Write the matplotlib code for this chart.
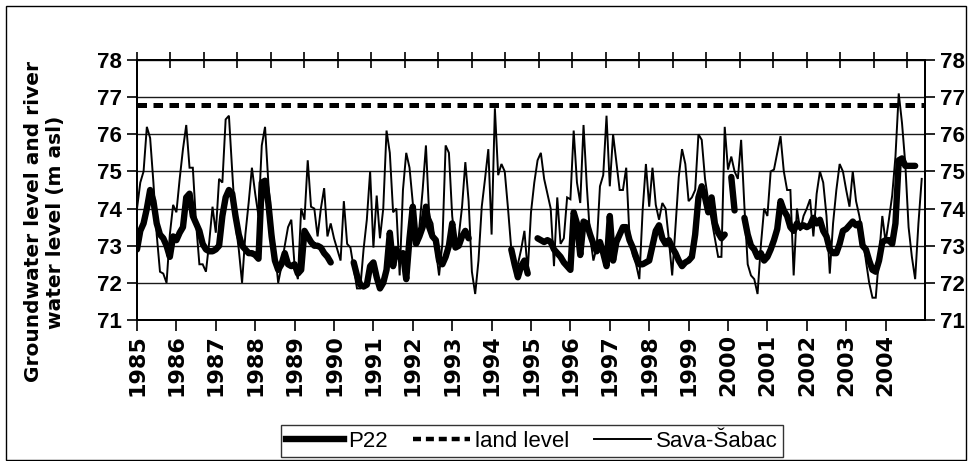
import numpy as np
import matplotlib
matplotlib.use('Agg')
import matplotlib.pyplot as plt
from matplotlib import font_manager
from matplotlib.patches import Rectangle
from matplotlib.lines import Line2D

# ---------------- data (monthly, Jan 1985 .. Dec 2004) ----------------
years = list(range(1985, 2005))
year_labels = [str(y) for y in years]
land_level = 76.8

sava = [
    74.0, 74.7, 75.0, 76.2, 75.9, 74.7, 73.3, 72.3, 72.25, 72.0, 73.3, 74.1,
    73.9, 74.8, 75.6, 76.25, 75.1, 75.1, 73.6, 72.5, 72.5, 72.3, 73.1, 74.05,
    73.35, 74.8, 74.7, 76.4, 76.5, 75.0, 73.6, 72.9, 72.0, 73.3, 74.15, 75.1,
    74.4, 73.8, 75.7, 76.2, 74.7, 73.6, 72.9, 72.0, 72.45, 73.0, 73.5, 73.7,
    72.45, 72.1, 74.0, 73.7, 75.3, 74.05, 74.0, 73.25, 74.0, 74.55, 73.25, 73.6,
    73.2, 72.9, 72.6, 74.2, 73.05, 72.95, 72.4, 71.85, 71.85, 72.9, 73.7, 75.0,
    72.95, 74.35, 73.2, 74.0, 76.1, 75.5, 73.9, 74.0, 72.2, 74.5, 75.5, 75.1,
    74.15, 73.25, 73.5, 74.5, 75.7, 73.8, 73.6, 72.9, 72.2, 73.05, 75.7, 75.5,
    73.8, 73.0, 73.25, 74.05, 75.25, 74.2, 72.3, 71.7, 72.6, 74.05, 74.8, 75.6,
    73.3, 76.7, 74.9, 75.2, 75.0, 74.0, 72.9, 72.35, 72.5, 72.9, 73.4, 72.3,
    73.9, 74.7, 75.3, 75.5, 74.8, 74.4, 74.0, 72.45, 74.3, 73.05, 73.2, 74.3,
    74.25, 76.1, 74.7, 74.15, 76.25, 74.6, 73.25, 72.6, 72.95, 74.6, 74.9, 76.5,
    74.6, 76.0, 75.25, 74.5, 74.5, 75.1, 73.25, 72.75, 72.5, 72.1, 73.95, 75.2,
    74.05, 75.1, 74.1, 73.7, 74.15, 74.0, 73.15, 72.2, 73.5, 74.85, 75.6, 75.2,
    74.2, 74.3, 74.5, 76.0, 75.85, 74.8, 74.2, 73.7, 73.2, 72.7, 72.7, 76.2,
    75.05, 75.4, 75.0, 74.8, 75.85, 74.05, 72.5, 72.2, 72.1, 71.7, 73.0, 74.0,
    73.8, 75.0, 75.05, 75.5, 75.95, 75.0, 74.5, 74.5, 72.2, 74.0, 73.4, 73.8,
    74.0, 74.25, 73.25, 74.4, 75.0, 74.7, 73.8, 72.25, 73.6, 74.5, 75.2, 75.0,
    74.5, 74.05, 75.0, 74.2, 73.8, 73.3, 72.6, 72.0, 71.6, 71.6, 72.7, 73.8,
    73.1, 73.7, 74.35, 75.4, 77.1, 76.3, 75.2, 73.5, 72.7, 72.1, 73.6, 74.8,
]

N = None
p22 = [
    72.9, 73.4, 73.6, 74.0, 74.5, 74.2, 73.6, 73.3, 73.2, 73.0, 72.7, 73.25,
    73.15, 73.35, 73.5, 74.3, 74.4, 73.8, 73.6, 73.4, 73.05, 72.9, 72.85, 72.85,
    72.9, 73.0, 73.8, 74.3, 74.5, 74.4, 73.8, 73.3, 73.0, 72.9, 72.8, 72.8,
    72.75, 72.65, 74.7, 74.75, 74.15, 73.25, 72.6, 72.35, 72.5, 72.8, 72.5, 72.45,
    72.5, 72.25, 72.35, 73.4, 73.25, 73.1, 73.0, 73.0, 72.95, 72.8, 72.7, 72.55,
    N, N, N, N, N, N, 72.55, 72.2, 71.95, 71.9, 71.95, 72.45,
    72.55, 72.15, 71.85, 72.0, 72.35, 73.35, 72.45, 72.9, 72.7, 72.8, 72.1, 73.2,
    74.05, 73.05, 73.25, 73.5, 74.05, 73.5, 73.25, 73.15, 72.6, 72.5, 72.7, 73.0,
    73.6, 72.95, 73.0, 73.25, 73.4, 73.2, N, N, N, N, N, N,
    N, N, N, N, N, N, 72.9, 72.5, 72.15, 72.45, 72.6, 72.25,
    N, N, 73.2, 73.15, 73.1, 73.15, 73.1, 72.9, 72.8, 72.7, 72.55, 72.45,
    72.35, 73.9, 73.6, 72.75, 73.65, 73.6, 73.3, 73.05, 72.85, 73.1, 72.8, 72.45,
    73.8, 72.6, 73.1, 73.3, 73.5, 73.5, 73.15, 72.95, 72.7, 72.5, 72.5, 72.55,
    72.6, 73.0, 73.4, 73.55, 73.2, 73.05, 73.15, 72.95, 72.8, 72.6, 72.45, 72.55,
    72.6, 72.7, 73.3, 74.3, 74.6, 74.3, 73.9, 74.3, 73.6, 73.35, 73.2, 73.3,
    N, 74.85, 73.95, N, N, 73.75, 73.3, 73.0, 72.9, 72.7, 72.8, 72.6,
    72.7, 72.9, 73.15, 73.45, 74.2, 73.95, 73.8, 73.5, 73.4, 73.6, 73.5, 73.55,
    73.5, 73.55, 73.75, 73.6, 73.7, 73.4, 73.25, 72.9, 72.8, 72.8, 73.05, 73.4,
    73.45, 73.55, 73.65, 73.55, 73.6, 73.0, 72.9, 72.6, 72.35, 72.3, 72.6, 73.1,
    73.15, 73.15, 73.05, 73.6, 75.3, 75.35, 75.15, 75.15, 75.15, 75.15, N, N,
]

y_ticks = [71, 72, 73, 74, 75, 76, 77, 78]

# ---------------- fonts ----------------
names = {f.name for f in font_manager.fontManager.ttflist}
narrow = 'Liberation Sans Narrow' if 'Liberation Sans Narrow' in names else 'Liberation Sans'
plt.rcParams['font.family'] = ['Liberation Sans', 'DejaVu Sans']

fig = plt.figure(figsize=(9.73, 4.61), dpi=100)
fig.patch.set_facecolor('white')

ax = fig.add_axes([137/973, 1-320/461, 788/973, 260/461])
months = np.arange(len(sava))
t = 1985 + months / 12.0
sava_arr = np.array(sava, dtype=float)
p22_arr = np.array([np.nan if v is None else v for v in p22], dtype=float)

ax.yaxis.grid(True, color='#1a1a1a', lw=1.0, zorder=1)
ax.set_axisbelow(True)
ax.plot(t, sava_arr, color='black', lw=1.4, zorder=3, solid_joinstyle='miter')
ax.plot(t, p22_arr, color='black', lw=4.6, zorder=4,
        solid_joinstyle='round', solid_capstyle='round')
ax.axhline(land_level, color='black', lw=3.6, dashes=(1.9, 1.3), zorder=5)

ax.set_xlim(1985, 2005)
ax.set_ylim(71, 78)
ax.set_yticks(y_ticks)
ax.set_yticklabels([str(v) for v in y_ticks], fontfamily=narrow,
                   fontweight='bold', fontsize=16)
ax.set_xticks(years)
ax.set_xticklabels(year_labels, rotation=90, fontfamily='DejaVu Sans',
                   fontweight='bold', fontsize=16, va='top', ha='center')
ax.tick_params(axis='x', direction='out', length=8, width=1.2, pad=2)
ax.tick_params(axis='y', direction='out', length=7, width=1.2, pad=4)
for s in ax.spines.values():
    s.set_linewidth(1.4)
    s.set_color('black')

# right axis (same scale)
axr = ax.twinx()
axr.set_ylim(71, 78)
axr.set_yticks(y_ticks)
axr.set_yticklabels([str(v) for v in y_ticks], fontfamily=narrow,
                    fontweight='bold', fontsize=16)
axr.tick_params(axis='y', direction='out', length=7, width=1.2, pad=4)
for s in axr.spines.values():
    s.set_linewidth(1.4)

# secondary top axis ticks (no labels)
axt = ax.twiny()
axt.set_xlim(0, 23.53)
axt.set_xticks(np.arange(0, 24))
axt.set_xticklabels([])
axt.tick_params(axis='x', direction='inout', length=11, width=1.2)
for s in axt.spines.values():
    s.set_linewidth(1.4)

# y label
fig.text(45/973, 1-222/461, 'Groundwater level and river\nwater level (m asl)',
         rotation=90, ha='center', va='center', multialignment='center',
         fontfamily='DejaVu Sans', fontweight='bold', fontsize=14.5,
         linespacing=1.2)

# legend
handles = [
    Line2D([], [], color='black', lw=4.6),
    Line2D([], [], color='black', lw=3.2, dashes=(1.8, 1.1)),
    Line2D([], [], color='black', lw=1.4),
]
leg = fig.legend(handles, ['P22', 'land level', 'Sava-Šabac'], ncol=3,
                 loc='center', bbox_to_anchor=(532/973, 1-441/461),
                 frameon=True, fancybox=False, edgecolor='black',
                 prop={'family': narrow, 'size': 16}, handlelength=2.6,
                 handletextpad=0.2, columnspacing=1.1, borderpad=0.25,
                 borderaxespad=0)
leg.get_frame().set_linewidth(1.0)

# outer figure border
fig.patches.append(Rectangle((6/973, 1/461), 960/973, 454/461,
                             transform=fig.transFigure, fill=False,
                             edgecolor='black', lw=1.0))

fig.savefig('out.png', dpi=100)
